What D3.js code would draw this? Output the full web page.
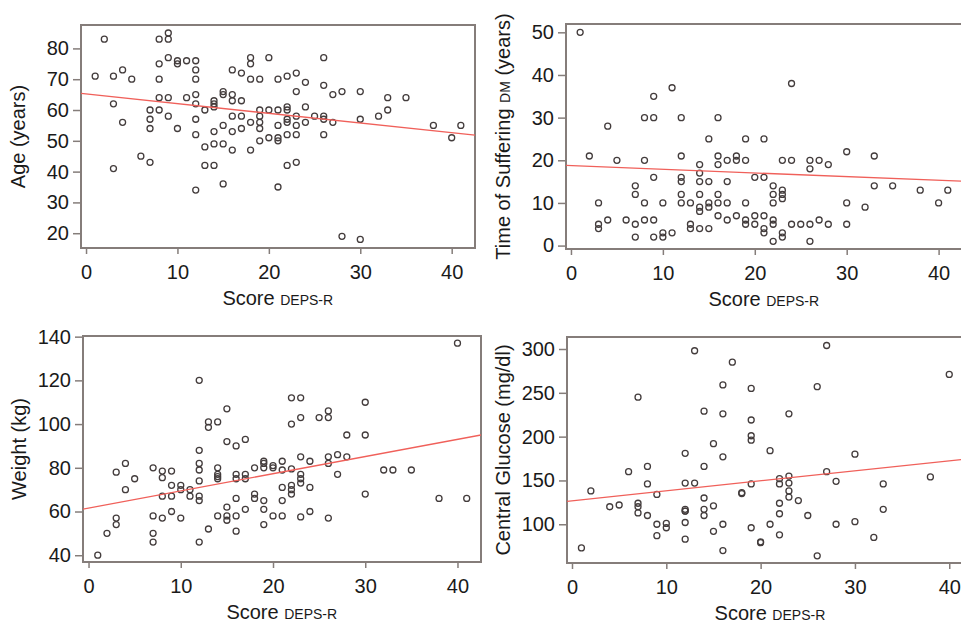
<!DOCTYPE html>
<html>
  <head>
    <meta charset="utf-8">
    <script src="https://d3js.org/d3.v7.min.js"></script>
    <style>
      body { margin: 0; background: #ffffff; }
      svg { display: block; font-family: "Liberation Sans", Arial, sans-serif; }
      .tick text { fill: #1a1a1a; }
    </style>
  </head>
  <body>
    <script>
      // Score DEPS-R against age (top left)
      var ageScore = [2,1,3,4,5,3,4,3,6,7,7,7,7,8,9,9,8,8,8,9,8,9,9,10,10,11,12,12,12,11,
        10,12,12,12,12,12,13,13,13,14,14,14,14,14,14,15,15,15,15,15,16,16,16,16,16,16,17,17,17,17,
        18,18,18,18,18,19,19,19,19,19,19,20,20,20,21,21,21,21,21,21,
        26,24,23,22,23,26,27,28,30,33,35,33,32,30,38,41,40,22,22,22,22,23,24,25,26,26,27,24,23,22,
        23,26,22,23,28,30];
      var ageValue = [83,71,71,73,70,62,56,41,45,43,60,57,54,83,83,85,75,70,64,64,60,58,77,76,75,76,76,73,70,64,
        54,65,62,57,52,34,60,48,42,42,49,53,63,62,61,66,65,55,49,36,73,65,63,58,53,47,72,63,58,54,
        77,75,70,56,47,70,60,58,56,54,50,77,60,51,70,60,55,51,50,35,
        77,69,72,71,66,68,65,66,66,64,64,60,58,57,55,55,51,61,60,57,56,58,61,58,58,57,56,56,55,52,
        52,52,42,43,19,18];

      // Score DEPS-R against time of suffering DM (top right)
      var timeScore = [1,2,3,3,3,4,4,5,6,7,7,7,7,8,8,8,8,9,9,9,9,9,10,10,10,11,11,12,12,12,
        12,12,12,13,13,13,14,14,14,14,14,14,14,15,15,15,15,15,16,16,16,16,16,16,17,17,17,17,
        24,19,21,18,18,19,23,24,26,26,27,28,30,33,20,21,22,22,22,23,23,23,19,18,19,19,20,20,21,21,
        21,22,22,22,23,23,24,25,26,26,27,28,30,30,32,33,35,38,40,41];
      var timeValue = [50,21,10,5,4,28,6,20,6,14,12,5,2,30,20,10,6,35,30,16,6,2,10,3,2,37,3,30,21,16,
        15,12,10,10,5,4,19,17,15,12,9,8,4,25,15,10,9,4,30,21,19,12,10,7,20,15,10,6,
        38,25,25,21,20,20,20,20,20,18,20,19,22,21,16,16,14,12,10,13,12,11,10,7,6,5,7,5,7,4,
        3,6,5,1,3,2,5,5,5,1,6,5,10,5,9,14,14,13,10,13];

      // Score DEPS-R against weight (bottom left)
      var weightScore = [1,2,3,3,3,4,4,5,7,7,7,7,8,8,8,8,9,9,9,9,10,10,10,11,11,12,12,12,12,12,
        12,12,12,13,13,13,14,14,14,14,14,14,15,15,15,15,15,16,16,16,16,16,16,17,17,17,17,18,18,18,
        19,19,19,19,19,19,20,20,20,
        40,22,23,30,22,23,25,26,26,28,30,21,21,22,23,24,26,26,27,28,27,23,23,23,21,22,22,22,24,21,
        21,23,24,26,32,33,35,30,38,41];
      var weightValue = [40,50,78,57,54,82,70,75,80,58,50,46,78.5,75.5,67,57,78.5,72,67,60,72,70,57,70,67,120,88,82,79,74,
        67,65,46,101,98.5,52,101,80,77,76,75,58,107,92,62,58,56,90,77,75,66,58,51,93,77,75,61,80,68,66,
        83,82,80,65,61,54,81,80,58,
        137,112,112,110,100,103,103,106,103,95,95,83,79,79.5,85,83,85,82,86,85,77,77,75,73,71,72,70,68,71,65,
        58,57.5,60,57,79,79,79,68,66,66];

      // Score DEPS-R against central glucose (bottom right)
      var glucoseScore = [1,2,4,5,6,7,7,7,7,8,8,8,9,9,9,10,10,12,12,12,12,12,12,12,13,13,14,14,14,14,
        14,15,15,15,16,16,16,16,16,17,
        27,19,26,40,23,19,19,19,21,30,27,28,38,33,19,22,22,23,23,23,23,24,22,22,18,18,25,33,30,28,
        21,19,22,20,20,32,26];
      var glucoseValue = [73,138,120,122,160,245,124,120,113,166,146,110,134,100,87,101,96,181,147,117,115,115,102,83,298,147,229,166,130,117,
        110,192,121,92,259,226,177,100,70,285,
        304,255,257,271,226,219,201,196,184,180,160,149,154,146,146,152,146,155,147,138,131,127,124,112,136,135,110,117,103,100,
        100,96,88,80,79,85,64];

      // Fitted regression lines: [intercept, slope]
      var ageFit = [65.2, -0.314];
      var timeFit = [18.75, -0.086];
      var weightFit = [61.6, 0.785];
      var glucoseFit = [126.8, 1.14];

      // Tick values
      var scoreTicks = [0, 10, 20, 30, 40];
      var ageTicks = [20, 30, 40, 50, 60, 70, 80];
      var timeTicks = [0, 10, 20, 30, 40, 50];
      var weightTicks = [40, 60, 80, 100, 120, 140];
      var glucoseTicks = [100, 150, 200, 250, 300];

      var width = 961;
      var height = 627;
      var frameColor = "#857d7a";

      var svg = d3.select("body").append("svg")
        .attr("width", width).attr("height", height);

      // Layout of the four panels, in pixels; the right panels run off the image edge
      var panels = [
        {xs: ageScore, ys: ageValue, fit: ageFit, yTicks: ageTicks,
         left: 81, right: 475, top: 25, bottom: 248,
         xDomain: [-0.55, 42.55], yDomain: [15.2, 87.6],
         yTitle: [["Age (years)", 20]], yTitleX: 19},
        {xs: timeScore, ys: timeValue, fit: timeFit, yTicks: timeTicks,
         left: 566, right: 975, top: 24, bottom: 249,
         xDomain: [-0.54, 43.96], yDomain: [-0.8, 51.95],
         yTitle: [["Time of Suffering ", 20], ["DM", 14], [" (years)", 20]], yTitleX: 504},
        {xs: weightScore, ys: weightValue, fit: weightFit, yTicks: weightTicks,
         left: 83, right: 481, top: 336, bottom: 562,
         xDomain: [-0.6, 42.55], yDomain: [36.9, 140.3],
         yTitle: [["Weight (kg)", 20]], yTitleX: 20},
        {xs: glucoseScore, ys: glucoseValue, fit: glucoseFit, yTicks: glucoseTicks,
         left: 567, right: 975, top: 337, bottom: 563,
         xDomain: [-0.53, 42.73], yDomain: [55.8, 313.7],
         yTitle: [["Central Glucose (mg/dl)", 20]], yTitleX: 504}
      ];

      panels.forEach(function(p, i) {
        var xScale = d3.scaleLinear().domain(p.xDomain).range([p.left, p.right]);
        var yScale = d3.scaleLinear().domain(p.yDomain).range([p.bottom, p.top]);
        var g = svg.append("g");

        // Clip for the marks inside the frame
        g.append("clipPath").attr("id", "clip" + i)
          .append("rect")
          .attr("x", p.left).attr("y", p.top)
          .attr("width", p.right - p.left).attr("height", p.bottom - p.top);

        // Axes (ticks only, the frame draws the lines)
        var xAxis = d3.axisBottom(xScale).tickValues(scoreTicks)
          .tickSize(6).tickPadding(11).tickFormat(d3.format("d"));
        var yAxis = d3.axisLeft(yScale).tickValues(p.yTicks)
          .tickSize(8).tickPadding(4).tickFormat(d3.format("d"));

        var gx = g.append("g").attr("transform", "translate(0," + p.bottom + ")").call(xAxis);
        var gy = g.append("g").attr("transform", "translate(" + p.left + ",0)").call(yAxis);
        [gx, gy].forEach(function(ax) {
          ax.select(".domain").remove();
          ax.selectAll("line").attr("stroke", frameColor).attr("stroke-width", 1.5);
          ax.selectAll("text").style("font-size", "20px");
        });

        // Frame
        g.append("rect")
          .attr("x", p.left).attr("y", p.top)
          .attr("width", p.right - p.left).attr("height", p.bottom - p.top)
          .attr("fill", "none").attr("stroke", frameColor).attr("stroke-width", 2);

        // Points
        var pts = d3.zip(p.xs, p.ys);
        g.append("g").attr("clip-path", "url(#clip" + i + ")")
          .selectAll("circle").data(pts).enter().append("circle")
          .attr("cx", function(d) { return xScale(d[0]); })
          .attr("cy", function(d) { return yScale(d[1]); })
          .attr("r", 3)
          .attr("fill", "none")
          .attr("stroke", "#433c3c")
          .attr("stroke-width", 1.3);

        // Regression line
        var line = d3.line()
          .x(function(d) { return xScale(d); })
          .y(function(d) { return yScale(p.fit[0] + p.fit[1] * d); });
        g.append("path").datum(p.xDomain)
          .attr("clip-path", "url(#clip" + i + ")")
          .attr("d", line)
          .attr("fill", "none")
          .attr("stroke", "#f0605a")
          .attr("stroke-width", 1.3);

        // X axis title
        var centreX = (p.left + Math.min(p.right, xScale(42.5))) / 2;
        var xt = g.append("text")
          .attr("x", centreX).attr("y", p.bottom + 57)
          .attr("text-anchor", "middle").attr("fill", "#1a1a1a");
        xt.append("tspan").style("font-size", "20px").text("Score ");
        xt.append("tspan").style("font-size", "14px").text("DEPS-R");

        // Y axis title
        var yt = g.append("text")
          .attr("transform", "translate(" + p.yTitleX + "," + ((p.top + p.bottom) / 2) + ") rotate(-90)")
          .attr("text-anchor", "middle").attr("dy", "0.35em").attr("fill", "#1a1a1a");
        p.yTitle.forEach(function(part) {
          yt.append("tspan").style("font-size", part[1] + "px").text(part[0]);
        });
      });
    </script>
  </body>
</html>
